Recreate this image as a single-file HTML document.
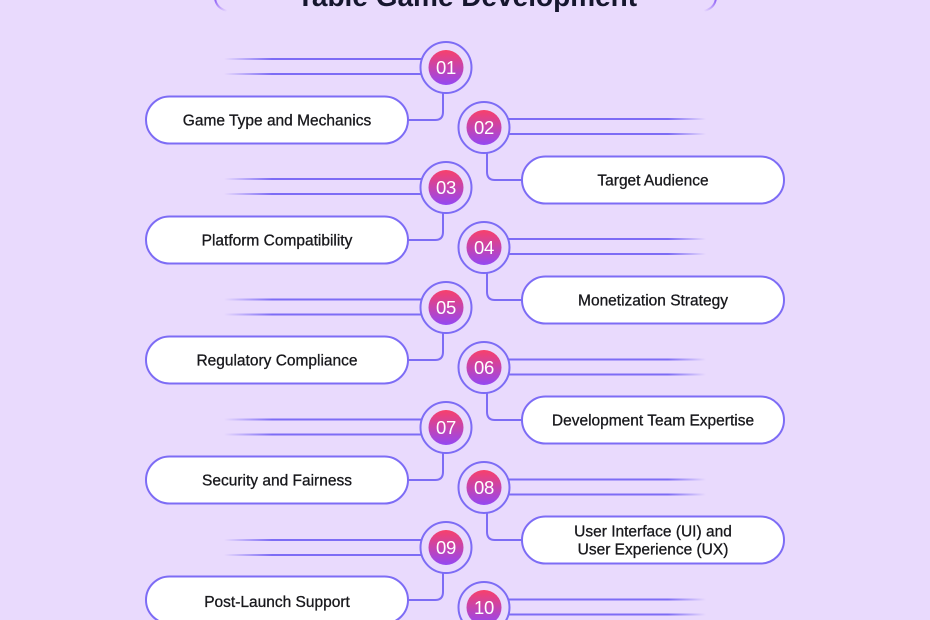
<!DOCTYPE html>
<html>
<head>
<meta charset="utf-8">
<style>
  html,body{margin:0;padding:0;background:#e9dafd;}
  body{width:930px;height:620px;overflow:hidden;}
  svg{display:block;}
  .lbl{font-family:"Liberation Sans",Arial,sans-serif;font-size:15.5px;fill:#18181c;stroke:#18181c;stroke-width:0.3px;text-anchor:middle;}
  .num{font-family:"Liberation Sans",Arial,sans-serif;font-size:18.5px;fill:#ffffff;text-anchor:middle;letter-spacing:-0.3px;}
  .ttl{font-family:"Liberation Sans",Arial,sans-serif;font-size:28px;font-weight:bold;fill:#16162e;text-anchor:middle;}
</style>
</head>
<body>
<svg width="930" height="620" viewBox="0 0 930 620" xmlns="http://www.w3.org/2000/svg">
  <defs>
    <linearGradient id="cg" x1="0" y1="0" x2="0" y2="1">
      <stop offset="0" stop-color="#f8406a"/>
      <stop offset="1" stop-color="#9447f3"/>
    </linearGradient>
    <linearGradient id="lfL" gradientUnits="userSpaceOnUse" x1="224" y1="0" x2="272" y2="0">
      <stop offset="0" stop-color="#7d6cf5" stop-opacity="0"/>
      <stop offset="1" stop-color="#7d6cf5" stop-opacity="1"/>
    </linearGradient>
    <linearGradient id="lfR" gradientUnits="userSpaceOnUse" x1="668" y1="0" x2="706" y2="0">
      <stop offset="0" stop-color="#7d6cf5" stop-opacity="1"/>
      <stop offset="1" stop-color="#7d6cf5" stop-opacity="0"/>
    </linearGradient>
    <linearGradient id="brL" x1="0" y1="0" x2="1" y2="1">
      <stop offset="0" stop-color="#8b5cf6"/>
      <stop offset="1" stop-color="#8b5cf6" stop-opacity="0"/>
    </linearGradient>
    <linearGradient id="brR" x1="1" y1="0" x2="0" y2="1">
      <stop offset="0" stop-color="#8b5cf6"/>
      <stop offset="1" stop-color="#8b5cf6" stop-opacity="0"/>
    </linearGradient>
  </defs>

  <rect width="930" height="620" fill="#e9dafd"/>

  <!-- Title -->
  <path d="M215,-2 Q216,8 227,11" fill="none" stroke="url(#brL)" stroke-width="2"/>
  <path d="M716,-2 Q715,8 704,11" fill="none" stroke="url(#brR)" stroke-width="2"/>
  <text class="ttl" x="467" y="6">Table Game Development</text>

  <!-- Item 01 (left) cy=67.5 -->
  <g>
    <line x1="224" y1="59" x2="425" y2="59" stroke="url(#lfL)" stroke-width="2"/>
    <line x1="224" y1="74" x2="425" y2="74" stroke="url(#lfL)" stroke-width="2"/>
    <path d="M443,93 V112 Q443,120 435,120 H408" fill="none" stroke="#7d6cf5" stroke-width="2"/>
    <rect x="146" y="96.5" width="262" height="47" rx="23.5" fill="#fff" stroke="#7d6cf5" stroke-width="2"/>
    <text class="lbl" x="277" y="125.5">Game Type and Mechanics</text>
    <circle cx="446" cy="67.5" r="25.5" fill="#e9dafd" stroke="#7d6cf5" stroke-width="2"/>
    <circle cx="446" cy="67.5" r="17.5" fill="url(#cg)"/>
    <text class="num" x="446" y="74">01</text>
  </g>

  <!-- Item 02 (right) cy=127.5 -->
  <g>
    <line x1="505" y1="119" x2="706" y2="119" stroke="url(#lfR)" stroke-width="2"/>
    <line x1="505" y1="134" x2="706" y2="134" stroke="url(#lfR)" stroke-width="2"/>
    <path d="M487,153 V172 Q487,180 495,180 H522" fill="none" stroke="#7d6cf5" stroke-width="2"/>
    <rect x="522" y="156.5" width="262" height="47" rx="23.5" fill="#fff" stroke="#7d6cf5" stroke-width="2"/>
    <text class="lbl" x="653" y="185.5">Target Audience</text>
    <circle cx="484" cy="127.5" r="25.5" fill="#e9dafd" stroke="#7d6cf5" stroke-width="2"/>
    <circle cx="484" cy="127.5" r="17.5" fill="url(#cg)"/>
    <text class="num" x="484" y="134">02</text>
  </g>

  <!-- Item 03 (left) cy=187.5 -->
  <g>
    <line x1="224" y1="179" x2="425" y2="179" stroke="url(#lfL)" stroke-width="2"/>
    <line x1="224" y1="194" x2="425" y2="194" stroke="url(#lfL)" stroke-width="2"/>
    <path d="M443,213 V232 Q443,240 435,240 H408" fill="none" stroke="#7d6cf5" stroke-width="2"/>
    <rect x="146" y="216.5" width="262" height="47" rx="23.5" fill="#fff" stroke="#7d6cf5" stroke-width="2"/>
    <text class="lbl" x="277" y="245.5">Platform Compatibility</text>
    <circle cx="446" cy="187.5" r="25.5" fill="#e9dafd" stroke="#7d6cf5" stroke-width="2"/>
    <circle cx="446" cy="187.5" r="17.5" fill="url(#cg)"/>
    <text class="num" x="446" y="194">03</text>
  </g>

  <!-- Item 04 (right) cy=247.5 -->
  <g>
    <line x1="505" y1="239" x2="706" y2="239" stroke="url(#lfR)" stroke-width="2"/>
    <line x1="505" y1="254" x2="706" y2="254" stroke="url(#lfR)" stroke-width="2"/>
    <path d="M487,273 V292 Q487,300 495,300 H522" fill="none" stroke="#7d6cf5" stroke-width="2"/>
    <rect x="522" y="276.5" width="262" height="47" rx="23.5" fill="#fff" stroke="#7d6cf5" stroke-width="2"/>
    <text class="lbl" x="653" y="305.5">Monetization Strategy</text>
    <circle cx="484" cy="247.5" r="25.5" fill="#e9dafd" stroke="#7d6cf5" stroke-width="2"/>
    <circle cx="484" cy="247.5" r="17.5" fill="url(#cg)"/>
    <text class="num" x="484" y="254">04</text>
  </g>

  <!-- Item 05 (left) cy=307.5 -->
  <g>
    <line x1="224" y1="299.5" x2="425" y2="299.5" stroke="url(#lfL)" stroke-width="2"/>
    <line x1="224" y1="314.5" x2="425" y2="314.5" stroke="url(#lfL)" stroke-width="2"/>
    <path d="M443,333 V352 Q443,360 435,360 H408" fill="none" stroke="#7d6cf5" stroke-width="2"/>
    <rect x="146" y="336.5" width="262" height="47" rx="23.5" fill="#fff" stroke="#7d6cf5" stroke-width="2"/>
    <text class="lbl" x="277" y="365.5">Regulatory Compliance</text>
    <circle cx="446" cy="307.5" r="25.5" fill="#e9dafd" stroke="#7d6cf5" stroke-width="2"/>
    <circle cx="446" cy="307.5" r="17.5" fill="url(#cg)"/>
    <text class="num" x="446" y="314">05</text>
  </g>

  <!-- Item 06 (right) cy=367.5 -->
  <g>
    <line x1="505" y1="359.5" x2="706" y2="359.5" stroke="url(#lfR)" stroke-width="2"/>
    <line x1="505" y1="374.5" x2="706" y2="374.5" stroke="url(#lfR)" stroke-width="2"/>
    <path d="M487,393 V412 Q487,420 495,420 H522" fill="none" stroke="#7d6cf5" stroke-width="2"/>
    <rect x="522" y="396.5" width="262" height="47" rx="23.5" fill="#fff" stroke="#7d6cf5" stroke-width="2"/>
    <text class="lbl" x="653" y="425.5">Development Team Expertise</text>
    <circle cx="484" cy="367.5" r="25.5" fill="#e9dafd" stroke="#7d6cf5" stroke-width="2"/>
    <circle cx="484" cy="367.5" r="17.5" fill="url(#cg)"/>
    <text class="num" x="484" y="374">06</text>
  </g>

  <!-- Item 07 (left) cy=427.5 -->
  <g>
    <line x1="224" y1="419.5" x2="425" y2="419.5" stroke="url(#lfL)" stroke-width="2"/>
    <line x1="224" y1="434.5" x2="425" y2="434.5" stroke="url(#lfL)" stroke-width="2"/>
    <path d="M443,453 V472 Q443,480 435,480 H408" fill="none" stroke="#7d6cf5" stroke-width="2"/>
    <rect x="146" y="456.5" width="262" height="47" rx="23.5" fill="#fff" stroke="#7d6cf5" stroke-width="2"/>
    <text class="lbl" x="277" y="485.5">Security and Fairness</text>
    <circle cx="446" cy="427.5" r="25.5" fill="#e9dafd" stroke="#7d6cf5" stroke-width="2"/>
    <circle cx="446" cy="427.5" r="17.5" fill="url(#cg)"/>
    <text class="num" x="446" y="434">07</text>
  </g>

  <!-- Item 08 (right) cy=487.5 -->
  <g>
    <line x1="505" y1="479.5" x2="706" y2="479.5" stroke="url(#lfR)" stroke-width="2"/>
    <line x1="505" y1="494.5" x2="706" y2="494.5" stroke="url(#lfR)" stroke-width="2"/>
    <path d="M487,513 V532 Q487,540 495,540 H522" fill="none" stroke="#7d6cf5" stroke-width="2"/>
    <rect x="522" y="516.5" width="262" height="47" rx="23.5" fill="#fff" stroke="#7d6cf5" stroke-width="2"/>
    <text class="lbl" x="653" y="536.5">User Interface (UI) and</text>
    <text class="lbl" x="653" y="554.5">User Experience (UX)</text>
    <circle cx="484" cy="487.5" r="25.5" fill="#e9dafd" stroke="#7d6cf5" stroke-width="2"/>
    <circle cx="484" cy="487.5" r="17.5" fill="url(#cg)"/>
    <text class="num" x="484" y="494">08</text>
  </g>

  <!-- Item 09 (left) cy=547.5 -->
  <g>
    <line x1="224" y1="540" x2="425" y2="540" stroke="url(#lfL)" stroke-width="2"/>
    <line x1="224" y1="555" x2="425" y2="555" stroke="url(#lfL)" stroke-width="2"/>
    <path d="M443,573 V592 Q443,600 435,600 H408" fill="none" stroke="#7d6cf5" stroke-width="2"/>
    <rect x="146" y="576.5" width="262" height="47" rx="23.5" fill="#fff" stroke="#7d6cf5" stroke-width="2"/>
    <text class="lbl" x="277" y="607">Post-Launch Support</text>
    <circle cx="446" cy="547.5" r="25.5" fill="#e9dafd" stroke="#7d6cf5" stroke-width="2"/>
    <circle cx="446" cy="547.5" r="17.5" fill="url(#cg)"/>
    <text class="num" x="446" y="554">09</text>
  </g>

  <!-- Item 10 (right) cy=607.5 -->
  <g>
    <line x1="505" y1="599.5" x2="706" y2="599.5" stroke="url(#lfR)" stroke-width="2"/>
    <line x1="505" y1="614.5" x2="706" y2="614.5" stroke="url(#lfR)" stroke-width="2"/>
    <circle cx="484" cy="607.5" r="25.5" fill="#e9dafd" stroke="#7d6cf5" stroke-width="2"/>
    <circle cx="484" cy="607.5" r="17.5" fill="url(#cg)"/>
    <text class="num" x="484" y="614">10</text>
  </g>
</svg>
</body>
</html>
